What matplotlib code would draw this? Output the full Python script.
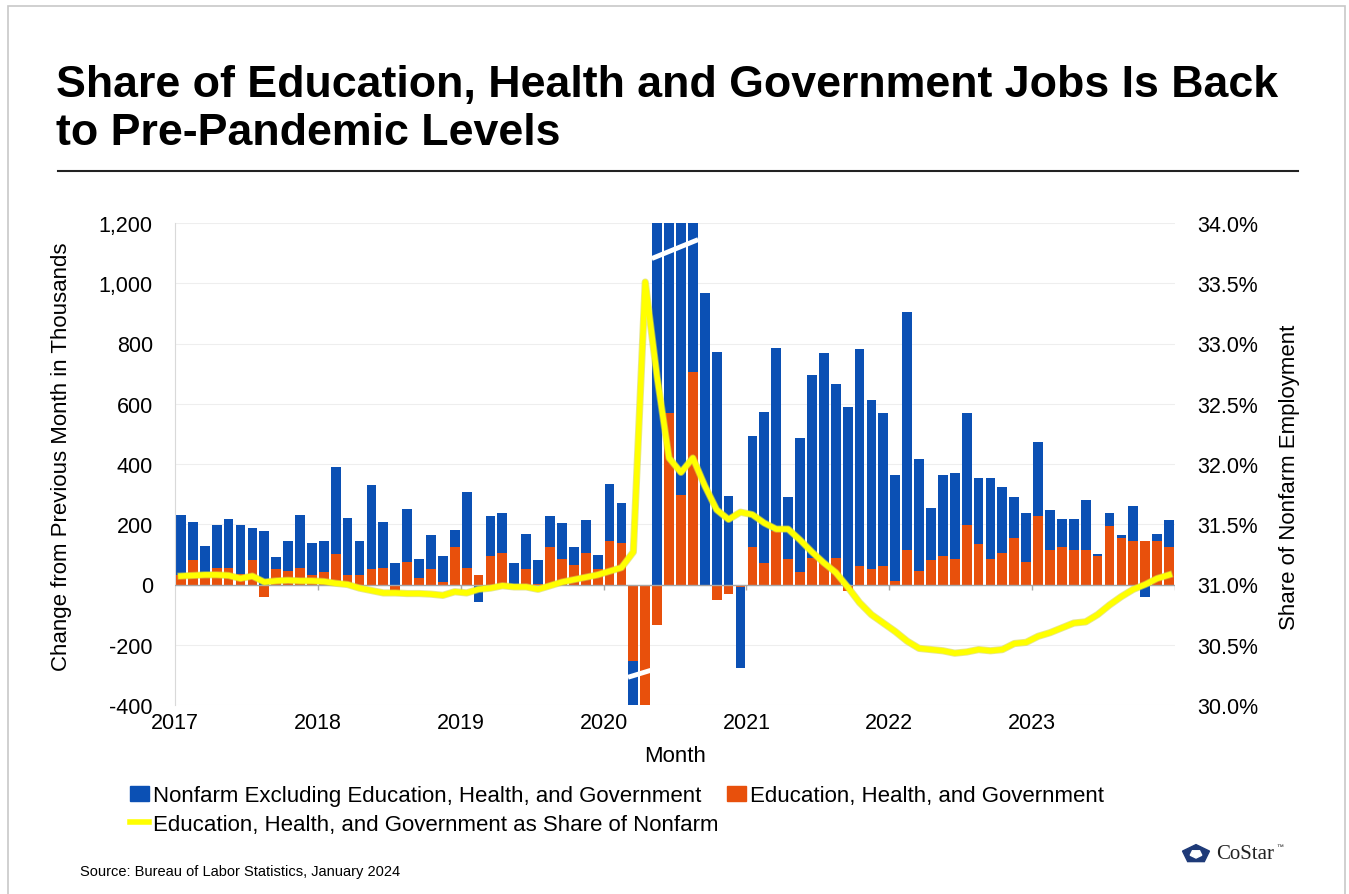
import numpy as np
import matplotlib.pyplot as plt
import matplotlib.patheffects as pe
from matplotlib.lines import Line2D
from matplotlib.patches import Patch, Rectangle, RegularPolygon

plt.rcParams['font.family'] = ['Liberation Sans', 'DejaVu Sans']

# -----------------------------
# Data: monthly change (thousands), Jan 2017 - Dec 2023
# -----------------------------
years = ['2017', '2018', '2019', '2020', '2021', '2022', '2023']

# Education, Health, and Government
ehg = [30, 80, 38, 56, 56, 35, 80, -40, 50, 46, 56, 33,
       43, 100, 33, 33, 50, 56, -23, 76, 23, 50, 7, 123,
       56, 33, 96, 103, 3, 50, 3, 126, 83, 66, 106, 50,
       146, 139, -255, -4100, -135, 568, 296, 707, 0, -53, -30, -8,
       125, 72, 179, 86, 43, 89, 70, 89, -23, 60, 50, 60,
       13, 116, 46, 80, 93, 83, 199, 133, 83, 106, 153, 76,
       229, 116, 126, 113, 113, 96, 193, 153, 146, 143, 143, 123]

# Nonfarm excluding Education, Health, and Government
other = [202, 126, 91, 143, 163, 164, 106, 176, 40, 100, 176, 106,
         103, 289, 189, 110, 279, 153, 73, 173, 63, 113, 86, 59,
         250, -57, 130, 136, 67, 116, 77, 103, 120, 60, 107, 49,
         186, 130, -1100, -16400, 3000, 3900, 1400, 900, 966, 773, 295, -268,
         369, 502, 607, 203, 442, 605, 700, 575, 588, 723, 564, 508,
         352, 787, 369, 174, 272, 287, 371, 222, 269, 218, 136, 163,
         243, 130, 90, 103, 166, 4, 43, 10, 113, -43, 26, 90]

# EHG as share of nonfarm employment (%)
share = [31.07, 31.075, 31.08, 31.08, 31.075, 31.05, 31.07, 31.02, 31.03, 31.035, 31.03, 31.03,
         31.025, 31.01, 31.0, 30.97, 30.95, 30.93, 30.93, 30.925, 30.925, 30.92, 30.91, 30.94,
         30.93, 30.96, 30.97, 30.99, 30.98, 30.98, 30.96, 30.99, 31.02, 31.04, 31.06, 31.08,
         31.11, 31.14, 31.27, 33.51, 32.72, 32.05, 31.93, 32.05, 31.82, 31.62, 31.54, 31.6,
         31.58, 31.51, 31.46, 31.46, 31.37, 31.27, 31.18, 31.1, 30.98, 30.85, 30.75, 30.68,
         30.61, 30.53, 30.47, 30.46, 30.45, 30.43, 30.44, 30.46, 30.45, 30.46, 30.51, 30.52,
         30.57, 30.6, 30.64, 30.68, 30.69, 30.75, 30.83, 30.9, 30.96, 31.0, 31.05, 31.08]

BLUE = '#0b50b4'
ORANGE = '#e8500c'
YELLOW = '#ffff00'

ehg = np.array(ehg, dtype=float)
other = np.array(other, dtype=float)
share = np.array(share)
n = len(ehg)
x = np.arange(n) + 0.5
other_bottom = np.where(np.sign(other) == np.sign(ehg), ehg, 0)

W, H = 1349, 895
fig = plt.figure(figsize=(W / 100, H / 100), dpi=100)

# frame, title and rule
fig.add_artist(Rectangle((8 / W, -0.01), 1337 / W, 1 - 7 / H + 0.01, transform=fig.transFigure,
                         fill=False, ec='#c8c8c8', lw=1.2))
fig.text(56 / W, 1 - 97 / H, 'Share of Education, Health and Government Jobs Is Back',
         fontsize=32.2, fontweight='bold', va='baseline')
fig.text(56 / W, 1 - 145 / H, 'to Pre-Pandemic Levels',
         fontsize=32.2, fontweight='bold', va='baseline')
fig.add_artist(Line2D([58 / W, 1298 / W], [1 - 172 / H] * 2, color='#222222', lw=1.5,
                      transform=fig.transFigure))

# -----------------------------
# Bars
# -----------------------------
ax = fig.add_axes([175 / W, 1 - 706 / H, 1000 / W, 482 / H])
ymin, ymax = -400, 1200
ax.bar(x, ehg, width=0.82, color=ORANGE, zorder=2)
ax.bar(x, other, bottom=other_bottom, width=0.82, color=BLUE, zorder=2)
ax.set_xlim(0, n)
ax.set_ylim(ymin, ymax)
ax.set_yticks(np.arange(ymin, ymax + 1, 200))
ax.set_yticklabels([f'{v:,.0f}' for v in np.arange(ymin, ymax + 1, 200)])
ax.grid(axis='y', color='#eeeeee', lw=0.8, zorder=0)
ax.tick_params(axis='y', length=0, pad=16, labelsize=15.5)
ax.set_xticks(np.arange(0, n, 12))
ax.set_xticklabels(years)
ax.tick_params(axis='x', length=0, pad=5, labelsize=15.5)
for s in ['top', 'right', 'bottom']:
    ax.spines[s].set_visible(False)
ax.spines['left'].set_color('#d9d9d9')

# zero line with year ticks
ax.axhline(0, color='#a6a6a6', lw=1, zorder=3)
ax.vlines(np.arange(12, n + 1, 12), -18, 0, color='#a6a6a6', lw=1, zorder=3)

# axis-break marks on clipped bars
clip_hi = np.where(other_bottom + other > ymax)[0]
clip_lo = np.where(np.minimum(ehg, other_bottom + other) < ymin)[0]
ax.plot([clip_hi.min() + 0.05, clip_hi.max() + 0.95], [ymax - 118, ymax - 55],
        color='white', lw=3.5, zorder=4, solid_capstyle='butt')
ax.plot([clip_lo.min() + 0.05, clip_lo.max() + 0.95], [ymin + 92, ymin + 115],
        color='white', lw=3.5, zorder=4, solid_capstyle='butt')

# -----------------------------
# Share line
# -----------------------------
ax2 = ax.twinx()
ax2.plot(x, share, color=YELLOW, lw=4, solid_joinstyle='round', zorder=5,
         path_effects=[pe.Stroke(linewidth=5.2, foreground='#d6d64a', alpha=0.6), pe.Normal()])
ax2.set_ylim(30, 34)
ax2.set_yticks(np.arange(30, 34.01, 0.5))
ax2.set_yticklabels([f'{v:.1f}%' for v in np.arange(30, 34.01, 0.5)])
ax2.tick_params(axis='y', length=0, pad=16, labelsize=15.5)
for s in ax2.spines.values():
    s.set_visible(False)

# axis titles
fig.text(62 / W, 1 - 457 / H, 'Change from Previous Month in Thousands', rotation=90,
         fontsize=16, ha='center', va='center')
fig.text(1290 / W, 1 - 477 / H, 'Share of Nonfarm Employment', rotation=90,
         fontsize=16, ha='center', va='center')
fig.text(675 / W, 1 - 757 / H, 'Month', fontsize=16, ha='center', va='center')

# legend
handles = [Patch(color=BLUE), Line2D([], [], color=YELLOW, lw=4), Patch(color=ORANGE)]
labels = ['Nonfarm Excluding Education, Health, and Government',
          'Education, Health, and Government as Share of Nonfarm',
          'Education, Health, and Government']
fig.legend(handles, labels, ncol=2, loc='upper left', bbox_to_anchor=(130 / W, 1 - 786 / H),
           frameon=False, fontsize=16, handlelength=0.85, handleheight=0.65, handletextpad=0.2,
           columnspacing=0.35, labelspacing=0.35, borderaxespad=0, borderpad=0)

# source and logo
fig.text(80 / W, 1 - 872 / H, 'Source: Bureau of Labor Statistics, January 2024',
         fontsize=10.5, va='center')
fig.add_artist(RegularPolygon((1196 / W, 1 - 855 / H), 5, radius=0.0105, color='#1e3a78',
                              transform=fig.transFigure))
fig.add_artist(RegularPolygon((1196 / W, 1 - 855 / H), 5, radius=0.0045, color='white',
                              orientation=np.pi / 5, transform=fig.transFigure))
fig.text(1216 / W, 1 - 855 / H, 'CoStar', family=['Liberation Serif', 'DejaVu Serif'],
         fontsize=15, va='center', color='#222222')
fig.text(1276 / W, 1 - 848 / H, '™', fontsize=5, va='center', color='#222222')

fig.savefig('out.png', dpi=100)
